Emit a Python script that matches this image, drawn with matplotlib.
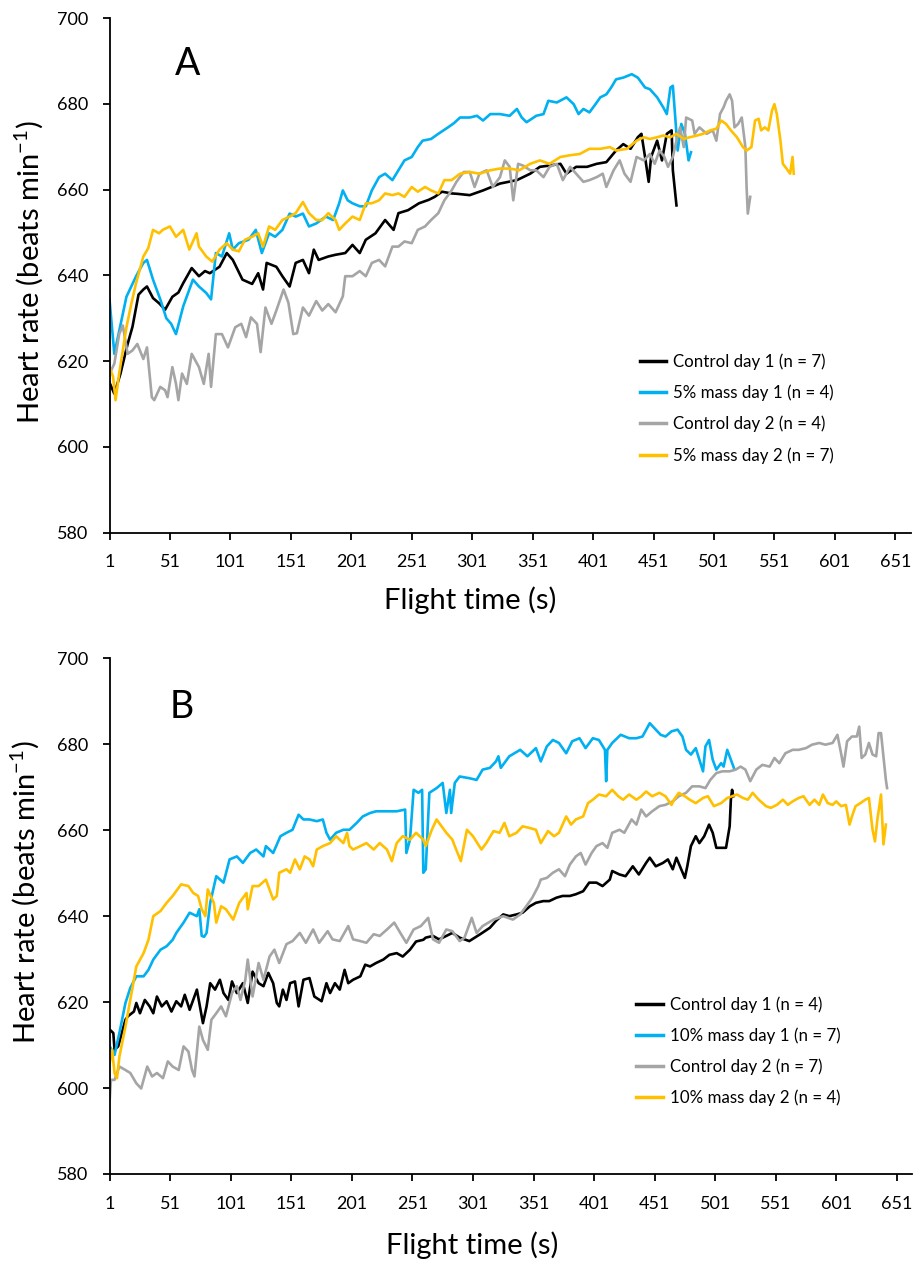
import matplotlib
matplotlib.use("Agg")
import matplotlib.pyplot as plt
import numpy as np

plt.rcParams['font.family'] = ['Lato', 'DejaVu Sans']
plt.rcParams['mathtext.fontset'] = 'custom'
plt.rcParams['mathtext.rm'] = 'Lato'
plt.rcParams['mathtext.it'] = 'Lato:italic'
plt.rcParams['mathtext.bf'] = 'Lato:bold'

# ---------------- Panel A data (time s, heart rate) ----------------
a_ctrl1_t = [1,5,10,16,20,25,29,32,37,42,47,53,58,62,69,75,80,84,92,98,103,111,119,124,128,131,139,144,150,155,161,166,170,174,182,188,196,202,208,213,221,229,236,240,248,257,265,270,276,284,289,299,310,324,338,349,357,365,374,379,387,396,404,412,420,426,432,438,441,444,447,449,454,458,462,466,467,470]
a_ctrl1_v = [615,612.4,617,624,628,635.5,636.7,637.4,634.7,633.5,632,635,636,638.2,641.7,639.8,641,640.5,642,645.2,643.6,639,638,640.5,636.7,642.9,642,639.8,637.4,642.9,643.6,640.5,646,643.6,644.4,644.8,645.2,647.1,645.2,648.3,649.8,652.9,650.6,654.5,655.2,656.8,657.6,658.3,659.5,659.1,659,658.7,659.8,661.4,662.2,663.7,665.3,665.6,666,663.7,665.3,665.3,666,666.4,669.1,670.6,669.5,672.2,673,667.6,661.8,667.6,671.4,666.8,673,673.8,664.5,656.3]

a_mass1_t = [1,3,5,9,15,23,29,32,37,43,48,52,56,62,70,75,81,85,89,94,100,103,108,116,122,127,133,138,144,150,155,161,166,172,180,186,191,194,198,202,208,213,218,224,229,235,240,245,251,256,260,267,273,281,286,291,299,305,310,316,324,332,338,342,346,354,360,364,371,379,385,389,393,398,403,407,412,416,420,426,433,438,444,448,454,459,462,465,467,469,471,474,477,480,482]
a_mass1_v = [634.4,628,621.7,627,635,639.8,642.9,643.6,639,634.4,630,628.7,626.3,632.8,639,637.4,635.9,634.4,645.2,644.4,649.8,646,647.5,648.3,650.6,645.2,649.8,649,650.6,654.4,653.7,654.4,651.4,652.1,653.7,652.9,656.8,659.8,657.5,656.8,656.1,656.1,659.8,662.9,663.7,662.2,664.5,666.8,667.6,669.9,671.4,671.8,673,674.5,675.5,676.8,676.8,677.2,676.1,677.6,677.6,677.2,678.8,676.8,675.7,677.2,677.6,680.7,680.3,681.5,679.9,677.6,678.8,678,679.9,681.5,682.2,683.8,685.7,686.1,686.9,686.1,683.8,683.4,681.5,679.2,677.6,683.8,684.2,676.8,669.1,675.3,673,666.8,668.7]

a_ctrl2_t = [1,5,9,12,16,20,24,29,32,36,38,43,47,49,53,56,58,61,65,69,75,79,83,85,89,94,99,105,110,114,118,123,126,130,135,139,145,149,153,156,161,166,172,177,182,188,194,196,202,208,213,218,224,229,235,240,245,251,256,262,267,273,278,284,288,294,299,303,307,313,318,324,328,332,335,339,343,349,354,360,365,371,376,382,387,393,398,404,409,412,418,423,427,432,437,443,448,452,456,460,463,467,470,473,476,478,483,485,489,495,500,503,506,509,511,514,516,518,521,524,527,528,529,531]
a_ctrl2_v = [617,619.4,626.3,628.3,621.7,622.5,624,620.5,623.2,611.6,610.9,614,613.2,611.6,618.6,614.7,610.9,617.1,614.7,621.7,618.6,614.7,621.7,614,626.3,626.3,623.2,627.9,628.7,625.6,630.2,628.7,622.1,632.5,628.7,631.8,636.7,633.6,626.3,626.5,632.5,630.6,634,631.8,633.3,631.4,635.1,639.8,639.8,641,639.8,642.9,643.6,642.1,646.7,646.7,647.9,647.5,650.6,651.4,652.9,654.5,657.5,659.8,661.8,664.1,664.1,660.6,663.7,664.5,660.6,662.9,666.8,665.3,657.5,666,665.6,664.5,664.5,662.9,665.3,666,662.2,665.3,663.7,661.8,662.2,662.9,663.7,660.6,664.5,666.8,663.7,661.8,667.6,666.8,668.3,666,669.1,667.6,665.3,667.6,671.4,674.5,669.9,676.8,676.1,673,674.5,673,673.8,671.4,677.6,679.2,680.7,682.2,680.7,674.5,675.3,676.8,669.9,660.6,654.4,658.3]

a_mass2_t = [1,4,6,9,15,19,23,29,33,37,42,45,51,56,62,67,73,75,81,86,92,98,103,108,113,119,124,128,133,138,144,150,155,161,166,172,177,182,188,191,196,202,208,213,218,224,229,235,240,245,251,256,262,267,273,278,284,291,299,307,316,324,332,340,349,357,365,374,382,390,398,407,415,420,429,437,443,448,454,459,465,470,476,481,487,492,498,503,507,511,515,520,525,528,532,535,538,540,543,546,549,551,553,556,558,561,564,566,567]
a_mass2_v = [618.6,616.3,610.9,617.1,627.9,633.3,638.2,644.4,646.3,650.6,649.8,650.6,651.4,649,650.6,646,649.8,646.7,644.4,643.2,646,647.5,646,645.6,648.3,649,649.8,646.7,651.4,650.6,652.9,653.7,654.5,657.1,654.5,652.9,652.9,654.5,652.9,650.6,652.1,653.7,652.9,656.8,656.8,657.5,659.1,658.7,659.1,658.3,660.6,659.5,660.6,659.8,659.1,662.2,662.2,663.7,664.1,663.7,664.5,664.9,664.9,664.5,666,666.8,666,667.6,668,668.3,669.5,669.5,669.9,669.1,669.5,671.4,672.2,671.8,672.2,672.6,672.2,673,671.8,672.2,672.6,673,673.8,674.2,676.1,675.3,673.8,672.2,669.9,669.1,669.9,676.1,676.5,673.8,674.5,673.8,678.4,679.9,677.6,671.4,666,664.9,663.7,667.6,663.7]

# ---------------- Panel B data ----------------
b_ctrl1_t = [1,4,5,8,11,14,16,21,23,26,30,34,37,40,44,48,52,56,60,63,67,73,75,78,81,84,88,92,95,99,102,106,111,115,119,124,128,132,136,139,141,144,147,150,154,157,161,166,170,176,180,183,187,191,195,198,202,208,212,216,221,227,232,238,243,249,254,260,262,268,273,279,284,290,298,307,315,320,326,331,337,342,348,353,359,364,370,375,381,386,392,397,403,408,414,416,422,427,433,438,444,447,452,458,462,466,469,473,476,478,481,485,488,492,496,499,502,506,510,513,514,515,516]
b_ctrl1_v = [613.6,612.8,608.9,609.7,612.8,615.9,616.7,617.8,619.8,617.4,620.5,619,617.4,621.3,619,620.2,617.8,620.2,619,621.7,618.2,622.9,619.8,615.1,619,624.4,622.9,625.2,622.1,620.5,624.8,622.1,624.4,619.8,627.1,624.4,623.7,626.8,624.4,619.8,619,622.9,620.5,624.4,624.8,619,625.2,625.6,621.3,620.2,624.4,622.1,624.4,622.9,627.5,624.4,625.2,626,628.7,628.3,629.1,629.9,631,631.4,630.6,632.2,634.1,634.5,635,635.4,634.6,635.4,636.1,635,634.2,635.8,637.3,638.9,640.4,640,640.4,640.8,642.3,643.1,643.5,643.5,644.3,644.7,644.7,645.1,645.8,647.8,647.8,647,648.5,650.5,649.7,649.3,651.6,649.7,652.4,653.6,651.6,652.4,653.2,650.9,653.6,650.9,648.9,651.6,656.3,658.6,657,658.6,661.3,659.4,655.9,655.9,655.9,660.9,667.1,669.4,667.9]

b_mass1_t = [1,5,9,14,18,23,29,33,37,43,48,53,56,62,67,73,75,77,79,81,84,89,95,100,106,111,117,122,128,130,136,142,147,152,157,161,166,172,177,180,183,188,194,199,205,210,216,221,229,238,245,246,249,252,256,259,260,262,265,271,276,279,282,283,286,290,298,304,309,315,320,322,324,331,340,346,353,357,362,367,372,378,383,389,394,400,405,410,411,412,416,423,430,436,441,447,451,456,460,465,470,474,477,481,485,488,491,493,496,499,502,506,508,511,514,517]
b_mass1_v = [609.7,607.7,612.8,619.8,623.3,626,626,627.5,629.9,632.2,633,634.5,636.1,638.5,640.8,640,641.6,635.4,635.2,636.1,643.1,649.3,647.8,653.2,653.9,652.4,654.7,655.5,653.9,656.3,654.7,658.6,659.4,660.1,663.6,662.5,662.5,662.1,662.5,659.4,657.8,659.4,660.1,660.1,661.7,663.2,664,664.4,664.4,664.4,664.8,654.7,657.8,669.4,668.7,669.4,650.1,650.9,668.7,669.8,671,664,669.4,664,671,672.5,672.1,671.7,674.1,674.5,676,677.2,674.5,677.2,678.7,677.2,679.1,676,679.5,681,680.3,677.9,680.7,681.4,679.1,681.4,681,678.7,671.4,678.7,680.3,682.2,681.4,681.4,681.8,684.9,683.7,682.2,681.8,683,683.4,681.8,678.7,677.6,679.1,676.4,673.7,679.5,681,676.4,674.1,675.6,674.8,678.7,676.4,674.1]

b_ctrl2_t = [1,2,5,9,14,18,23,27,32,36,40,45,49,53,58,62,66,69,71,75,78,82,85,89,93,97,102,106,109,113,115,119,124,128,133,137,141,147,152,158,163,169,174,181,185,191,198,202,208,213,219,224,230,236,241,246,252,258,264,268,273,279,284,290,294,300,304,309,318,326,334,340,345,350,355,357,362,367,372,377,381,386,390,394,399,403,408,412,416,422,426,432,436,440,444,449,455,460,466,471,477,482,488,493,497,502,507,513,518,522,526,530,535,540,546,550,554,559,565,570,576,581,587,592,598,602,605,607,610,614,618,620,622,625,628,631,634,636,638,640,642,643]
b_ctrl2_v = [597.2,601.9,601.9,605,604.2,603.5,601.1,599.9,605,602.7,603.5,602.3,606.2,605,604.2,609.7,608.5,604.2,602.7,614.3,611.2,608.9,615.9,617.4,619,616.7,622.1,623.7,620.5,625.2,629.9,621.3,629.1,625.2,630.6,632.2,629.1,633.5,634.2,636.1,633.8,636.9,633.8,636.5,634.6,634.2,637.7,634.6,634.2,633.8,635.8,635.4,636.9,638.5,636.1,633.8,636.9,637.7,639.6,634.6,633.8,636.9,636.5,634.2,635,639.6,636.1,637.7,639.2,640,639.2,640.4,642.3,644.3,647,648.5,648.9,650.1,650.9,649.3,652,653.9,654.7,652,654.7,656.3,657,655.9,659.4,660.1,659.4,662.5,661.3,664.8,663.2,664.4,665.6,665.9,666.7,667.9,668.7,670.2,670.2,669.8,671.7,673.3,673.7,673.7,674.1,674.8,674.1,671.4,674.1,675.2,674.8,676.8,675.6,677.9,678.7,678.7,679.1,679.9,680.3,679.9,680.3,682.2,677.9,674.8,680.7,681.8,681.8,684.1,676.8,677.6,680.3,677.6,677.2,682.6,682.6,677.2,671.7,669.8]

b_mass2_t = [1,3,5,7,9,14,18,23,29,33,37,43,48,53,60,66,70,74,77,80,82,87,89,93,97,103,108,114,115,119,124,130,136,139,141,147,150,154,158,162,166,169,172,177,183,188,194,197,199,202,208,213,219,224,230,234,238,243,249,254,260,262,267,271,273,279,284,286,291,296,301,308,312,318,323,327,331,337,342,348,353,357,363,368,372,378,382,386,392,396,400,405,411,416,421,425,430,436,440,444,449,455,460,465,467,471,476,480,485,491,495,500,506,511,515,519,524,528,532,537,543,547,552,557,561,565,570,574,579,583,587,590,594,598,601,605,609,612,614,617,621,625,628,631,633,635,638,639,640,642]
b_mass2_v = [605.8,608.9,603.5,602.3,607.3,614.3,620.5,628.3,631.4,634.5,640,641.2,643.1,644.7,647.4,647,645.4,644.7,641.6,640,646.2,643.1,638.5,642.3,641.6,639.2,643.1,645.4,641.6,647,647,648.5,643.9,644.7,650.1,650.9,650.1,653.2,650.9,653.9,653.2,651.6,655.5,656.3,657,658.6,657,659.4,656.3,655.5,656.3,657,655.5,657,655.5,652.8,657,658.6,657.8,659.4,657.8,656.3,660.1,662.5,661.7,659.4,657.8,656.3,652.8,660.1,658.6,655.5,657,659.8,659.4,661.7,658.6,659.4,660.9,660.5,660.1,657,659.8,658.6,659.4,663.2,661.3,662.5,663.2,666.3,667.1,668.3,667.9,669.4,667.9,667.1,668.3,667.1,667.9,669,667.9,668.7,667.9,665.9,667.1,668.7,667.9,667.1,666.3,667.5,667.9,665.6,666.3,667.5,667.9,668.3,667.5,667.1,668.7,667.1,665.6,665.2,665.9,667.1,665.9,666.7,667.5,667.9,665.9,667.1,665.9,668.3,666.3,665.9,666.7,665.6,665.9,661.3,663.2,665.6,666.3,667.1,667.5,660.1,657.4,662.5,668.3,662.5,656.7,661.3]

# ---------------- labels / styling ----------------
x_ticks = [1, 51, 101, 151, 201, 251, 301, 351, 401, 451, 501, 551, 601, 651]
y_ticks = [580, 600, 620, 640, 660, 680, 700]
colors = ['#000000', '#00B0F0', '#A5A5A5', '#FFC000']
labels_a = ['Control day 1 (n = 7)', '5% mass day 1 (n = 4)',
            'Control day 2 (n = 4)', '5% mass day 2 (n = 7)']
labels_b = ['Control day 1 (n = 4)', '10% mass day 1 (n = 7)',
            'Control day 2 (n = 7)', '10% mass day 2 (n = 4)']

W, H = 916, 1261
fig = plt.figure(figsize=(W / 100, H / 100), dpi=100)

def make_axes(left, top, right, bottom):
    return fig.add_axes([left / W, 1 - bottom / H, (right - left) / W, (bottom - top) / H])

axA = make_axes(109.5, 18, 911, 532.7)
axB = make_axes(109.7, 658.3, 912.5, 1174)

panels = [
    (axA, [(a_ctrl1_t, a_ctrl1_v), (a_mass1_t, a_mass1_v), (a_ctrl2_t, a_ctrl2_v), (a_mass2_t, a_mass2_v)],
     labels_a, 'A', (0.098, 0.91), (0.45, -0.104), (-0.081, 0.506), (0.662, 0.348)),
    (axB, [(b_ctrl1_t, b_ctrl1_v), (b_mass1_t, b_mass1_v), (b_ctrl2_t, b_ctrl2_v), (b_mass2_t, b_mass2_v)],
     labels_b, 'B', (0.09, 0.906), (0.452, -0.111), (-0.085, 0.547), (0.656, 0.345)),
]

for ax, series, labels, letter, letpos, xlpos, ylpos, legpos in panels:
    for (t, v), c, lab in zip(series, colors, labels):
        ax.plot(t, v, color=c, lw=1.9, label=lab, solid_joinstyle='round')
    ax.set_xlim(1, 664)
    ax.set_ylim(580, 700)
    ax.set_xticks(x_ticks)
    ax.set_yticks(y_ticks)
    for s in ['top', 'right']:
        ax.spines[s].set_visible(False)
    for s in ['left', 'bottom']:
        ax.spines[s].set_linewidth(1.3)
    ax.tick_params(axis='both', direction='out', length=5, width=1.3, labelsize=13, pad=10.5)
    ax.set_xlabel('Flight time (s)', fontsize=21)
    ax.set_ylabel(r'Heart rate (beats min$^{\mathregular{-1}}$)', fontsize=21)
    ax.xaxis.set_label_coords(*xlpos)
    ax.yaxis.set_label_coords(*ylpos)
    ax.text(letpos[0], letpos[1], letter, transform=ax.transAxes, fontsize=27,
            ha='center', va='center')
    leg = ax.legend(loc='upper left', bbox_to_anchor=legpos, frameon=False,
                    fontsize=12.2, handlelength=1.55, handletextpad=0.42,
                    labelspacing=0.86, borderaxespad=0, borderpad=0)
    for line in leg.get_lines():
        line.set_linewidth(2.5)

fig.savefig('out.png', dpi=100)
